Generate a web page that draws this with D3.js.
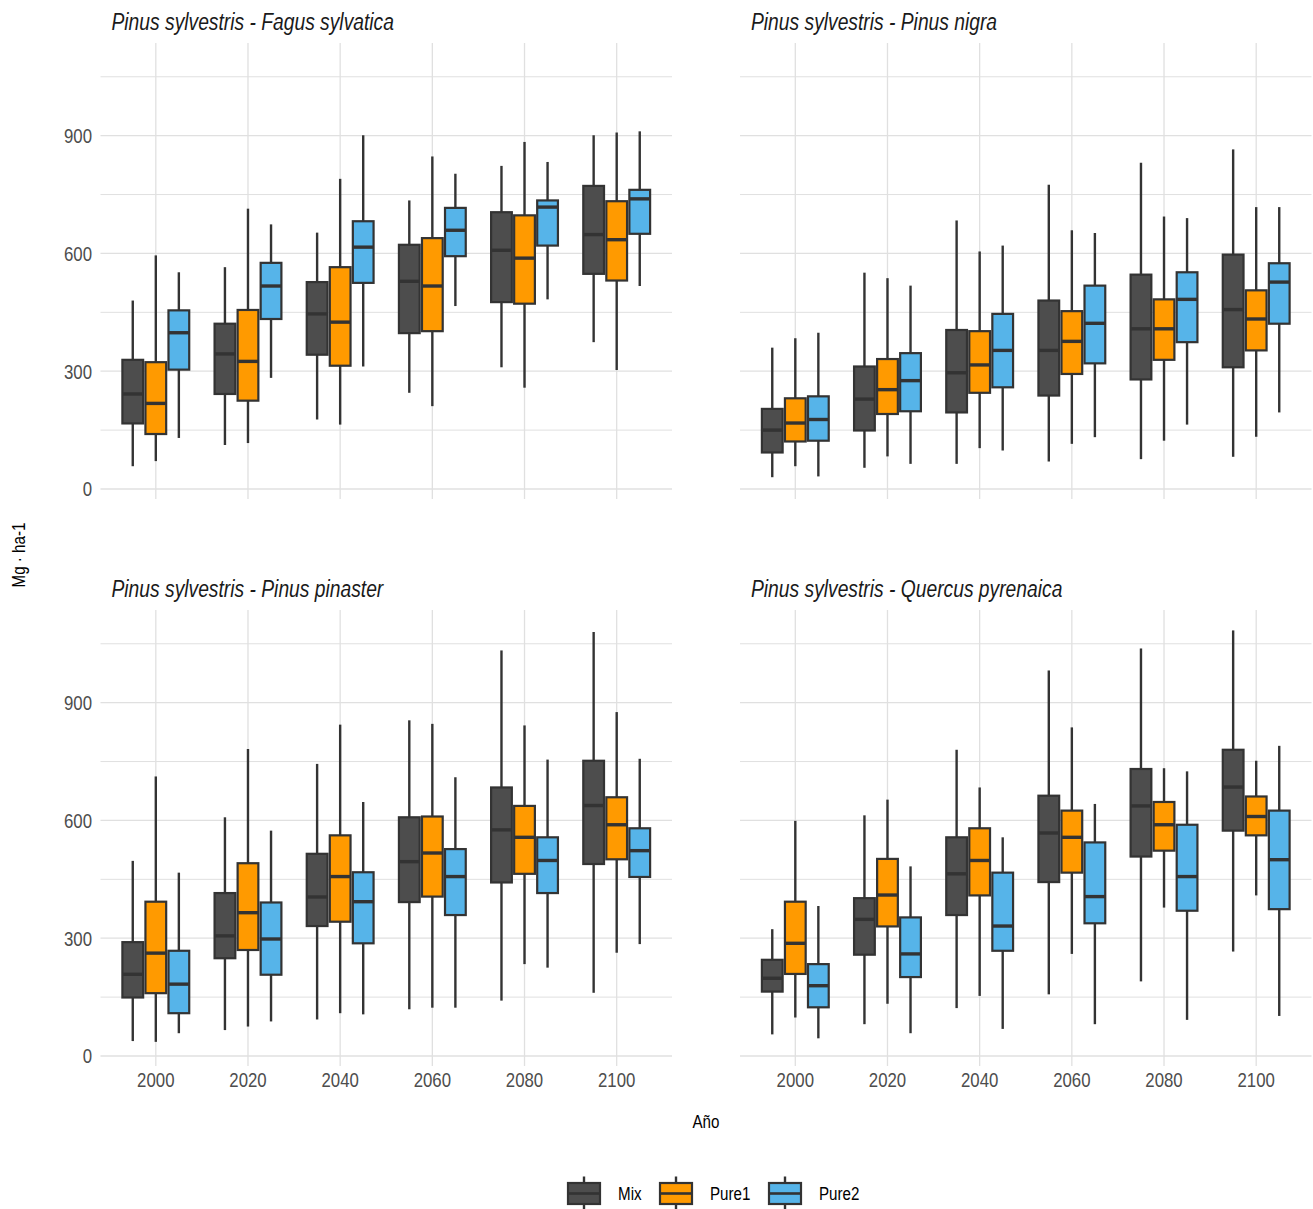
<!DOCTYPE html>
<html lang="en">
<head>
<meta charset="UTF-8">
<title>Biomasa por escenario</title>
<script src="https://d3js.org/d3.v7.min.js"></script>
<style>
    body { margin: 0; background: #fff; }
    text { font-family: "Liberation Sans", Arial, sans-serif; }
</style>
</head>
<body>
<svg width="1313" height="1209"></svg>
<script>
    var years = ["2000", "2020", "2040", "2060", "2080", "2100"];
    var groups = ["Mix", "Pure1", "Pure2"];
    var titles = ["Pinus sylvestris - Fagus sylvatica", "Pinus sylvestris - Pinus nigra",
                  "Pinus sylvestris - Pinus pinaster", "Pinus sylvestris - Quercus pyrenaica"];
    var majorTicks = [0, 300, 600, 900];
    var minorTicks = [150, 450, 750, 1050];

    // [lower whisker, q1, median, q3, upper whisker] per year
    var fagusMix   = [[58,167,242,329,480], [112,242,344,421,565], [177,342,446,527,653], [245,397,529,622,735], [310,476,608,705,823], [374,548,648,772,901]];
    var fagusPure1 = [[71,140,218,323,595], [117,225,325,456,714], [164,314,425,565,790], [211,402,517,639,847], [258,472,588,697,884], [303,531,635,733,908]];
    var fagusPure2 = [[130,304,398,455,552], [283,433,517,576,674], [312,525,616,682,901], [466,593,659,716,803], [483,620,718,735,833], [517,650,739,762,911]];

    var nigraMix   = [[30,93,150,204,360], [54,149,229,312,551], [64,195,296,405,684], [70,238,353,480,775], [76,279,408,546,831], [82,310,457,597,865]];
    var nigraPure1 = [[58,121,168,231,384], [83,191,253,331,537], [104,245,316,402,605], [115,293,376,453,659], [123,329,408,483,694], [133,353,433,506,718]];
    var nigraPure2 = [[32,123,177,236,398], [64,198,276,346,518], [98,259,353,446,620], [132,320,422,518,652], [164,374,483,552,690], [195,421,527,575,718]];

    var pinasterMix   = [[38,149,208,290,497], [66,249,306,415,608], [93,331,405,515,744], [119,392,495,608,855], [141,442,576,684,1033], [161,489,638,752,1080]];
    var pinasterPure1 = [[36,160,262,393,712], [75,270,365,491,782], [109,342,457,562,844], [123,406,517,610,846], [234,464,557,637,842], [263,501,589,659,876]];
    var pinasterPure2 = [[58,109,183,268,467], [88,207,298,391,574], [106,287,393,468,647], [123,359,457,527,710], [225,415,498,557,755], [285,456,523,580,757]];

    var quercusMix   = [[55,164,198,245,323], [81,258,348,402,613], [122,359,464,557,780], [157,443,568,663,982], [190,508,637,731,1038], [266,574,685,780,1084]];
    var quercusPure1 = [[98,209,287,393,599], [133,330,410,502,653], [153,409,498,580,684], [260,467,557,625,837], [378,523,589,647,733], [409,562,610,661,752]];
    var quercusPure2 = [[45,124,179,234,382], [58,201,260,353,483], [69,268,331,467,557], [81,338,406,544,642], [92,370,457,589,725], [102,374,500,625,790]];

    var color = d3.scaleOrdinal().domain(groups).range(["#4D4D4D", "#FF9A00", "#56B4E9"]);
    var line = "#333333";
    var grid = "#E0E0E0";
    var narrow = 0.82; // no narrow font installed, squeeze Liberation Sans instead

    var panels = [
        {title: titles[0], series: [fagusMix, fagusPure1, fagusPure2], left: 100.5, right: 672, top: 43, bottom: 499, yAxis: true, xAxis: false},
        {title: titles[1], series: [nigraMix, nigraPure1, nigraPure2], left: 740, right: 1311.5, top: 43, bottom: 499, yAxis: false, xAxis: false},
        {title: titles[2], series: [pinasterMix, pinasterPure1, pinasterPure2], left: 100.5, right: 672, top: 610, bottom: 1066, yAxis: true, xAxis: true},
        {title: titles[3], series: [quercusMix, quercusPure1, quercusPure2], left: 740, right: 1311.5, top: 610, bottom: 1066, yAxis: false, xAxis: true}
    ];

    var svg = d3.select("svg");

    function label(parent, x, y, str, size, anchor, fill, extra) {
        var t = parent.append("text")
            .attr("transform", "translate(" + x + "," + y + ")" + (extra || "") + " scale(" + narrow + ",1)")
            .attr("font-size", size)
            .attr("text-anchor", anchor)
            .attr("fill", fill)
            .text(str);
        return t;
    }

    panels.forEach(function (p) {
        var x = d3.scalePoint().domain(years).range([p.left, p.right]).padding(0.6);
        var y = d3.scaleLinear().domain([-25.5, 1136]).range([p.bottom, p.top]);
        var step = x.step();
        var g = svg.append("g");

        // grid
        g.selectAll(".minor").data(minorTicks).enter().append("line")
            .attr("x1", p.left).attr("x2", p.right)
            .attr("y1", function (d) { return y(d); }).attr("y2", function (d) { return y(d); })
            .attr("stroke", grid).attr("stroke-width", 1);
        g.selectAll(".major").data(majorTicks).enter().append("line")
            .attr("x1", p.left).attr("x2", p.right)
            .attr("y1", function (d) { return y(d); }).attr("y2", function (d) { return y(d); })
            .attr("stroke", grid).attr("stroke-width", 1.3);
        g.selectAll(".vgrid").data(years).enter().append("line")
            .attr("x1", function (d) { return x(d); }).attr("x2", function (d) { return x(d); })
            .attr("y1", p.top).attr("y2", p.bottom)
            .attr("stroke", grid).attr("stroke-width", 1.3);

        // boxes
        p.series.forEach(function (s, gi) {
            var off = (gi - 1) * step * 0.25;
            var bw = step * 0.25 * 0.9;
            var box = g.append("g").selectAll("g").data(s).enter().append("g")
                .attr("transform", function (d, i) { return "translate(" + (x(years[i]) + off) + ",0)"; });
            box.append("line")
                .attr("x1", 0).attr("x2", 0)
                .attr("y1", function (d) { return y(d[0]); }).attr("y2", function (d) { return y(d[1]); })
                .attr("stroke", line).attr("stroke-width", 2.4);
            box.append("line")
                .attr("x1", 0).attr("x2", 0)
                .attr("y1", function (d) { return y(d[3]); }).attr("y2", function (d) { return y(d[4]); })
                .attr("stroke", line).attr("stroke-width", 2.4);
            box.append("rect")
                .attr("x", -bw / 2).attr("width", bw)
                .attr("y", function (d) { return y(d[3]); })
                .attr("height", function (d) { return y(d[1]) - y(d[3]); })
                .attr("fill", color(groups[gi]))
                .attr("stroke", line).attr("stroke-width", 2.2);
            box.append("line")
                .attr("x1", -bw / 2).attr("x2", bw / 2)
                .attr("y1", function (d) { return y(d[2]); }).attr("y2", function (d) { return y(d[2]); })
                .attr("stroke", line).attr("stroke-width", 3.4);
        });

        // title
        label(g, p.left + 11, p.top - 13.5, p.title, 23.5, "start", "#1A1A1A")
            .attr("font-style", "italic");

        if (p.yAxis) {
            majorTicks.forEach(function (d) {
                label(g, p.left - 8.5, y(d), d, 20.5, "end", "#4D4D4D").attr("dy", "0.36em");
            });
        }
        if (p.xAxis) {
            years.forEach(function (d) {
                label(g, x(d), p.bottom + 21, d, 20.5, "middle", "#4D4D4D");
            });
        }
    });

    // axis titles
    label(svg, 706, 1128, "Año", 18.5, "middle", "#000");
    label(svg, 25, 555, "Mg · ha-1", 18.5, "middle", "#000", " rotate(-90)");

    // legend
    var legendX = [568, 660, 769];
    var legend = svg.append("g").selectAll("g").data(groups).enter().append("g")
        .attr("transform", function (d, i) { return "translate(" + legendX[i] + ",1172.5)"; });
    legend.append("line")
        .attr("x1", 16).attr("x2", 16).attr("y1", 4).attr("y2", 38)
        .attr("stroke", line).attr("stroke-width", 2.4);
    legend.append("rect")
        .attr("x", 0).attr("y", 10.5).attr("width", 32).attr("height", 21)
        .attr("fill", function (d) { return color(d); })
        .attr("stroke", line).attr("stroke-width", 2.2);
    legend.append("line")
        .attr("x1", 0).attr("x2", 32).attr("y1", 21).attr("y2", 21)
        .attr("stroke", line).attr("stroke-width", 2.6);
    legend.each(function (d) {
        label(d3.select(this), 50, 27.5, d, 18.5, "start", "#000");
    });
</script>
</body>
</html>
